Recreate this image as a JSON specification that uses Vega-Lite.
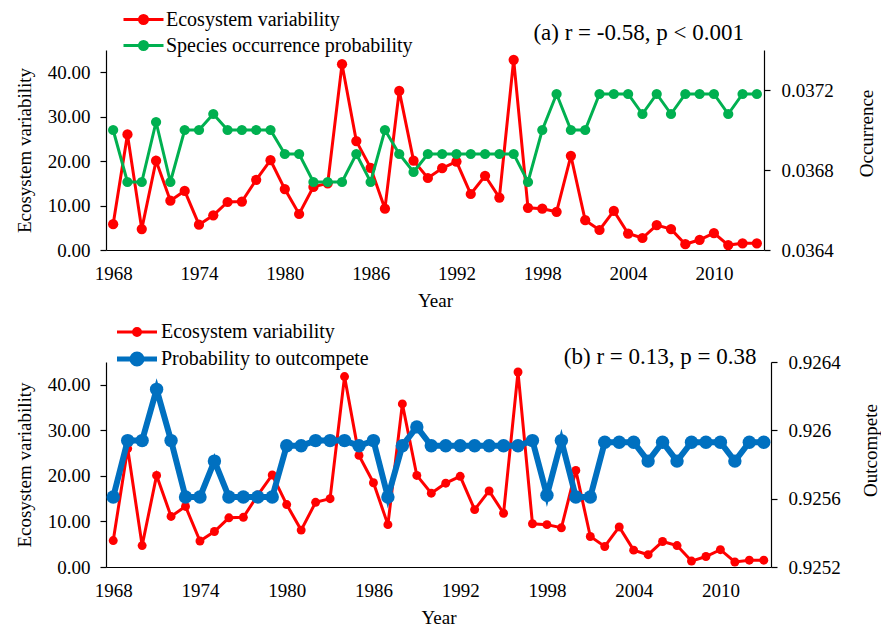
{
  "$schema": "https://vega.github.io/schema/vega-lite/v6.json",
  "padding": {"left": 15, "top": 8, "right": 0, "bottom": 0},
  "background": "white",
  "datasets": {
    "series": [
      {"year": 1968, "eco": 5.8, "occ": 0.03700, "out": 0.92561},
      {"year": 1969, "eco": 26.0, "occ": 0.03674, "out": 0.92594},
      {"year": 1970, "eco": 4.7, "occ": 0.03674, "out": 0.92594},
      {"year": 1971, "eco": 20.1, "occ": 0.03704, "out": 0.92624},
      {"year": 1972, "eco": 11.1, "occ": 0.03674, "out": 0.92594},
      {"year": 1973, "eco": 13.3, "occ": 0.03700, "out": 0.92561},
      {"year": 1974, "eco": 5.7, "occ": 0.03700, "out": 0.92561},
      {"year": 1975, "eco": 7.8, "occ": 0.03708, "out": 0.92582},
      {"year": 1976, "eco": 10.8, "occ": 0.03700, "out": 0.92561},
      {"year": 1977, "eco": 10.9, "occ": 0.03700, "out": 0.92561},
      {"year": 1978, "eco": 15.8, "occ": 0.03700, "out": 0.92561},
      {"year": 1979, "eco": 20.2, "occ": 0.03700, "out": 0.92561},
      {"year": 1980, "eco": 13.7, "occ": 0.03688, "out": 0.92591},
      {"year": 1981, "eco": 8.1, "occ": 0.03688, "out": 0.92591},
      {"year": 1982, "eco": 14.2, "occ": 0.03674, "out": 0.92594},
      {"year": 1983, "eco": 15.0, "occ": 0.03674, "out": 0.92594},
      {"year": 1984, "eco": 41.8, "occ": 0.03674, "out": 0.92594},
      {"year": 1985, "eco": 24.5, "occ": 0.03688, "out": 0.92591},
      {"year": 1986, "eco": 18.5, "occ": 0.03674, "out": 0.92594},
      {"year": 1987, "eco": 9.3, "occ": 0.03700, "out": 0.92561},
      {"year": 1988, "eco": 35.8, "occ": 0.03688, "out": 0.92591},
      {"year": 1989, "eco": 20.1, "occ": 0.03679, "out": 0.92602},
      {"year": 1990, "eco": 16.2, "occ": 0.03688, "out": 0.92591},
      {"year": 1991, "eco": 18.4, "occ": 0.03688, "out": 0.92591},
      {"year": 1992, "eco": 19.9, "occ": 0.03688, "out": 0.92591},
      {"year": 1993, "eco": 12.6, "occ": 0.03688, "out": 0.92591},
      {"year": 1994, "eco": 16.7, "occ": 0.03688, "out": 0.92591},
      {"year": 1995, "eco": 11.8, "occ": 0.03688, "out": 0.92591},
      {"year": 1996, "eco": 42.8, "occ": 0.03688, "out": 0.92591},
      {"year": 1997, "eco": 9.5, "occ": 0.03674, "out": 0.92594},
      {"year": 1998, "eco": 9.3, "occ": 0.03700, "out": 0.92562},
      {"year": 1999, "eco": 8.6, "occ": 0.03718, "out": 0.92594},
      {"year": 2000, "eco": 21.2, "occ": 0.03700, "out": 0.92561},
      {"year": 2001, "eco": 6.7, "occ": 0.03700, "out": 0.92561},
      {"year": 2002, "eco": 4.5, "occ": 0.03718, "out": 0.92593},
      {"year": 2003, "eco": 8.8, "occ": 0.03718, "out": 0.92593},
      {"year": 2004, "eco": 3.7, "occ": 0.03718, "out": 0.92593},
      {"year": 2005, "eco": 2.7, "occ": 0.03708, "out": 0.92582},
      {"year": 2006, "eco": 5.6, "occ": 0.03718, "out": 0.92593},
      {"year": 2007, "eco": 4.7, "occ": 0.03708, "out": 0.92582},
      {"year": 2008, "eco": 1.3, "occ": 0.03718, "out": 0.92593},
      {"year": 2009, "eco": 2.3, "occ": 0.03718, "out": 0.92593},
      {"year": 2010, "eco": 3.8, "occ": 0.03718, "out": 0.92593},
      {"year": 2011, "eco": 1.1, "occ": 0.03708, "out": 0.92582},
      {"year": 2012, "eco": 1.5, "occ": 0.03718, "out": 0.92593},
      {"year": 2013, "eco": 1.5, "occ": 0.03718, "out": 0.92593}
    ]
  },
  "vconcat": [
    {
      "width": 658,
      "height": 200,
      "data": {"name": "series"},
      "layer": [
        {
          "mark": {"type": "line", "strokeWidth": 3, "point": {"filled": true, "size": 105, "opacity": 1}},
          "encoding": {
            "x": {"field": "year", "type": "quantitative", "scale": {"domain": [1967.5, 2013.5], "nice": false, "zero": false},
                  "axis": {"title": "Year", "values": [1968, 1974, 1980, 1986, 1992, 1998, 2004, 2010], "format": "d", "ticks": false, "labelPadding": 14, "titlePadding": 8, "labelFlush": false, "labelOverlap": false}},
            "y": {"field": "eco", "type": "quantitative", "scale": {"domain": [0, 45], "nice": false},
                  "axis": {"title": "Ecosystem variability", "values": [0, 10, 20, 30, 40], "format": ".2f", "tickSize": 6, "labelPadding": 10, "titlePadding": 13}},
            "color": {"datum": "Ecosystem variability",
                      "scale": {"domain": ["Ecosystem variability", "Species occurrence probability"], "range": ["#FF0000", "#00B050"]},
                      "legend": {"title": null, "orient": "none", "legendX": 26, "legendY": -42, "padding": 0, "symbolSize": 400, "labelOffset": 11, "rowPadding": 4,
                                 "labelFont": "Liberation Serif", "labelFontSize": 20, "labelColor": "black", "labelLimit": 500,
                                 "symbolType": "M-2,0H2M-0.4,0A0.4,0.4,0,1,1,0.4,0A0.4,0.4,0,1,1,-0.4,0Z",
                                 "symbolStrokeWidth": 3, "symbolOpacity": 1,
                                 "encode": {"symbols": {"update": {
                                   "fill": {"signal": "datum.value === 'Ecosystem variability' ? '#FF0000' : '#00B050'"},
                                   "stroke": {"signal": "datum.value === 'Ecosystem variability' ? '#FF0000' : '#00B050'"},
                                   "strokeWidth": {"value": 3},
                                   "opacity": {"value": 1}}}}}}
          }
        },
        {
          "mark": {"type": "line", "strokeWidth": 3, "point": {"filled": true, "size": 105, "opacity": 1}},
          "encoding": {
            "x": {"field": "year", "type": "quantitative", "scale": {"domain": [1967.5, 2013.5], "nice": false, "zero": false}},
            "y": {"field": "occ", "type": "quantitative", "scale": {"domain": [0.0364, 0.0374], "nice": false, "zero": false},
                  "axis": {"orient": "right", "title": "Occurrence", "values": [0.0364, 0.0368, 0.0372], "format": ".4f", "tickSize": 6, "labelPadding": 11, "titlePadding": 43, "titleAngle": 270, "titleY": 83}},
            "color": {"datum": "Species occurrence probability"}
          }
        },
        {
          "data": {"values": [{"label": "(a) r = -0.58, p < 0.001"}]},
          "mark": {"type": "text", "align": "right", "baseline": "alphabetic", "fontSize": 23, "font": "Liberation Serif", "color": "black"},
          "encoding": {
            "x": {"datum": 2012.1, "type": "quantitative", "scale": {"domain": [1967.5, 2013.5], "nice": false, "zero": false}},
            "y": {"datum": 47.3, "type": "quantitative", "scale": {"domain": [0, 45], "nice": false}, "axis": null},
            "text": {"field": "label"}
          }
        }
      ],
      "resolve": {"scale": {"y": "independent"}}
    },
    {
      "width": 665,
      "height": 205,
      "data": {"name": "series"},
      "layer": [
        {
          "mark": {"type": "line", "strokeWidth": 3, "point": {"filled": true, "size": 80, "opacity": 1}},
          "encoding": {
            "x": {"field": "year", "type": "quantitative", "scale": {"domain": [1967.5, 2013.5], "nice": false, "zero": false},
                  "axis": {"title": "Year", "values": [1968, 1974, 1980, 1986, 1992, 1998, 2004, 2010], "format": "d", "ticks": false, "labelPadding": 14, "titlePadding": 8, "labelFlush": false, "labelOverlap": false}},
            "y": {"field": "eco", "type": "quantitative", "scale": {"domain": [0, 45], "nice": false},
                  "axis": {"title": "Ecosystem variability", "values": [0, 10, 20, 30, 40], "format": ".2f", "tickSize": 6, "labelPadding": 10, "titlePadding": 13}},
            "color": {"datum": "Ecosystem variability",
                      "scale": {"domain": ["Ecosystem variability", "Probability to outcompete"], "range": ["#FF0000", "#0070C0"]},
                      "legend": {"title": null, "orient": "none", "legendX": 21, "legendY": -40, "padding": 0, "symbolSize": 400, "labelOffset": 14, "rowPadding": 2,
                                 "labelFont": "Liberation Serif", "labelFontSize": 20, "labelColor": "black", "labelLimit": 500,
                                 "symbolStrokeWidth": 3, "symbolOpacity": 1,
                                 "encode": {"symbols": {"update": {
                                   "shape": {"signal": "datum.value === 'Ecosystem variability' ? 'M-2,0H2M-0.35,0A0.35,0.35,0,1,1,0.35,0A0.35,0.35,0,1,1,-0.35,0Z' : 'M-2,0H2M-0.5,0A0.5,0.5,0,1,1,0.5,0A0.5,0.5,0,1,1,-0.5,0Z'"},
                                   "fill": {"signal": "datum.value === 'Ecosystem variability' ? '#FF0000' : '#0070C0'"},
                                   "stroke": {"signal": "datum.value === 'Ecosystem variability' ? '#FF0000' : '#0070C0'"},
                                   "strokeWidth": {"signal": "datum.value === 'Ecosystem variability' ? 3 : 5"},
                                   "opacity": {"value": 1}}}}}}
          }
        },
        {
          "mark": {"type": "line", "strokeWidth": 6, "point": {"filled": true, "size": 180, "opacity": 1}},
          "encoding": {
            "x": {"field": "year", "type": "quantitative", "scale": {"domain": [1967.5, 2013.5], "nice": false, "zero": false}},
            "y": {"field": "out", "type": "quantitative", "scale": {"domain": [0.9252, 0.9264], "nice": false, "zero": false},
                  "axis": {"orient": "right", "title": "Outcompete", "values": [0.9252, 0.9256, 0.926, 0.9264], "format": ".4~f", "tickSize": 6, "labelPadding": 11, "titlePadding": 40, "titleAngle": 270, "titleY": 88}},
            "color": {"datum": "Probability to outcompete"}
          }
        },
        {
          "data": {"values": [{"label": "(b) r = 0.13, p = 0.38"}]},
          "mark": {"type": "text", "align": "right", "baseline": "alphabetic", "fontSize": 23, "font": "Liberation Serif", "color": "black"},
          "encoding": {
            "x": {"datum": 2012.5, "type": "quantitative", "scale": {"domain": [1967.5, 2013.5], "nice": false, "zero": false}},
            "y": {"datum": 44.6, "type": "quantitative", "scale": {"domain": [0, 45], "nice": false}, "axis": null},
            "text": {"field": "label"}
          }
        }
      ],
      "resolve": {"scale": {"y": "independent"}}
    }
  ],
  "resolve": {"scale": {"color": "independent"}, "legend": {"color": "independent"}},
  "spacing": 12,
  "config": {
    "font": "Liberation Serif",
    "view": {"stroke": null},
    "axis": {
      "grid": false,
      "labelFont": "Liberation Serif",
      "titleFont": "Liberation Serif",
      "labelFontSize": 19,
      "titleFontSize": 19,
      "titleFontWeight": "normal",
      "labelColor": "black",
      "titleColor": "black",
      "domainColor": "black",
      "tickColor": "black",
      "domainWidth": 1.2,
      "tickWidth": 1.2
    }
  }
}
